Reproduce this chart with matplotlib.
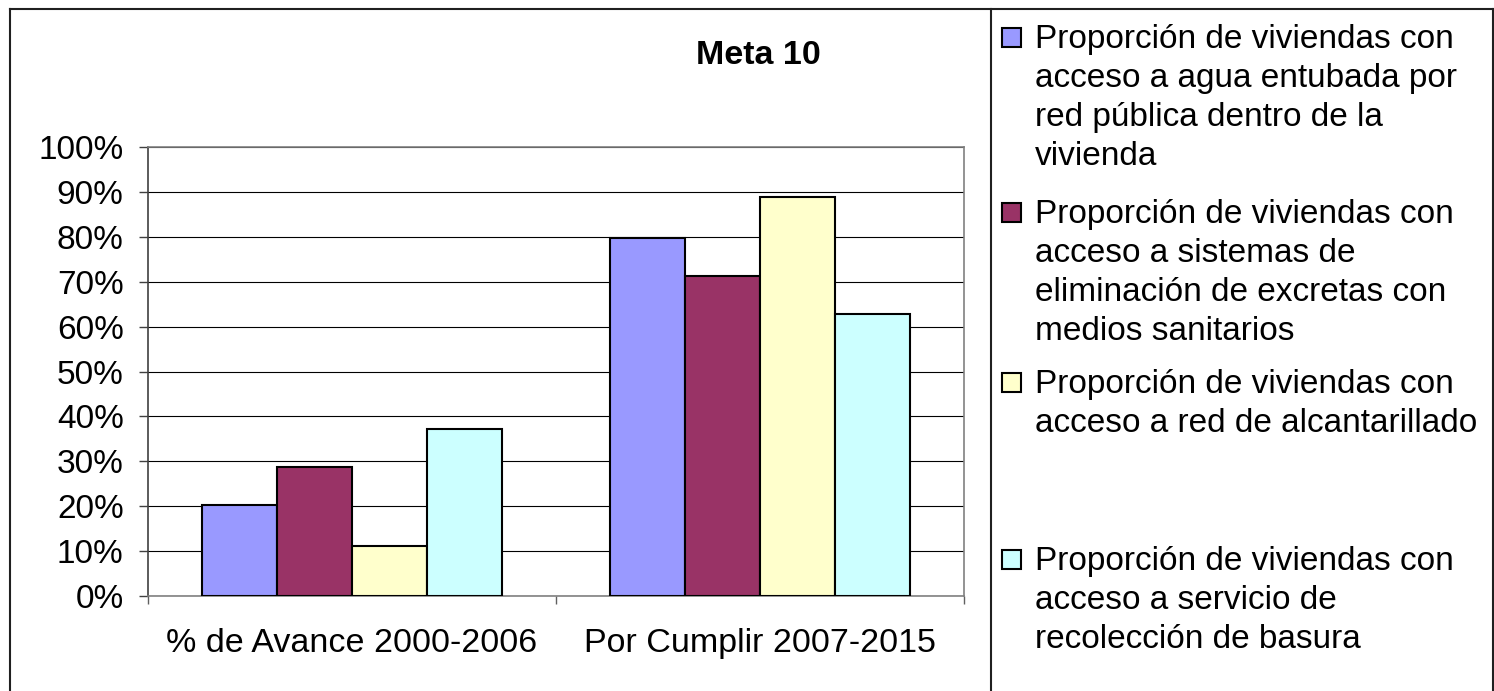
import matplotlib.pyplot as plt
from matplotlib.patches import Rectangle
from matplotlib.lines import Line2D
from matplotlib.ticker import PercentFormatter, FixedLocator
import numpy as np

plt.rcParams['font.family'] = ['Liberation Sans', 'DejaVu Sans']

# data (percent)
categories = ['% de Avance 2000-2006', 'Por Cumplir 2007-2015']
agua = [20.2, 79.8]
excretas = [28.8, 71.2]
alcantarillado = [11.2, 88.8]
basura = [37.3, 62.7]

series = [agua, excretas, alcantarillado, basura]
colors = ['#9999FF', '#993366', '#FFFFCC', '#CCFFFF']
labels = [
    ['Proporción de viviendas con', 'acceso a agua entubada por',
     'red pública dentro de la', 'vivienda'],
    ['Proporción de viviendas con', 'acceso a sistemas de',
     'eliminación de excretas con', 'medios sanitarios'],
    ['Proporción de viviendas con', 'acceso a red de alcantarillado'],
    ['Proporción de viviendas con', 'acceso a servicio de',
     'recolección de basura'],
]

W, H = 1494, 691
fig = plt.figure(figsize=(W / 100, H / 100), dpi=100)
ax = fig.add_axes([148 / W, (H - 596) / H, 816 / W, 449 / H])

x = np.arange(len(categories))
bw = 0.733 / 4
for i, vals in enumerate(series):
    ax.bar(x + (i - 1.5) * bw, vals, bw, color=colors[i], edgecolor='black',
           linewidth=1.5, zorder=3)

ax.set_xlim(-0.5, 1.5)
ax.set_ylim(0, 100)
ax.set_yticks(np.arange(0, 101, 10))
ax.yaxis.set_major_formatter(PercentFormatter(decimals=0))
ax.grid(axis='y', color='black', linewidth=0.8, zorder=1)
ax.set_xticks(x)
ax.set_xticklabels(categories)
ax.xaxis.set_minor_locator(FixedLocator([-0.5, 0.5, 1.5]))
ax.tick_params(axis='x', which='major', length=0, pad=23, labelsize=24.5)
ax.tick_params(axis='x', which='minor', length=6, width=1, color='#606060', direction='out')
ax.tick_params(axis='y', length=6.5, width=1, color='#404040', pad=11, labelsize=24)
for s in ['top', 'right', 'bottom']:
    ax.spines[s].set_color('#808080')
    ax.spines[s].set_linewidth(1.2)
ax.spines['left'].set_color('#404040')
ax.spines['left'].set_linewidth(1.2)

fig.text(758 / W, 1 - 64 / H, 'Meta 10', fontsize=24.5, fontweight='bold',
         ha='center', va='baseline')

# outer frame and legend divider
fc = '#202020'
for xs, ys in [([10, 10], [9, H + 5]), ([10, 1493], [9, 9]),
               ([1493, 1493], [9, H + 5]), ([991, 991], [9, H + 5])]:
    fig.add_artist(Line2D([v / W for v in xs], [1 - v / H for v in ys],
                          color=fc, linewidth=1.5))

# legend entries, one text per line
baselines = [48, 223, 393, 570]
step = 39
for c, lines, b in zip(colors, labels, baselines):
    fig.add_artist(Rectangle((1002 / W, 1 - (b - 1) / H), 19 / W, 19 / H,
                             facecolor=c, edgecolor='black', linewidth=1.5))
    for k, line in enumerate(lines):
        fig.text(1035 / W, 1 - (b + k * step) / H, line, fontsize=24,
                 ha='left', va='baseline')

fig.savefig('out.png', dpi=100)
